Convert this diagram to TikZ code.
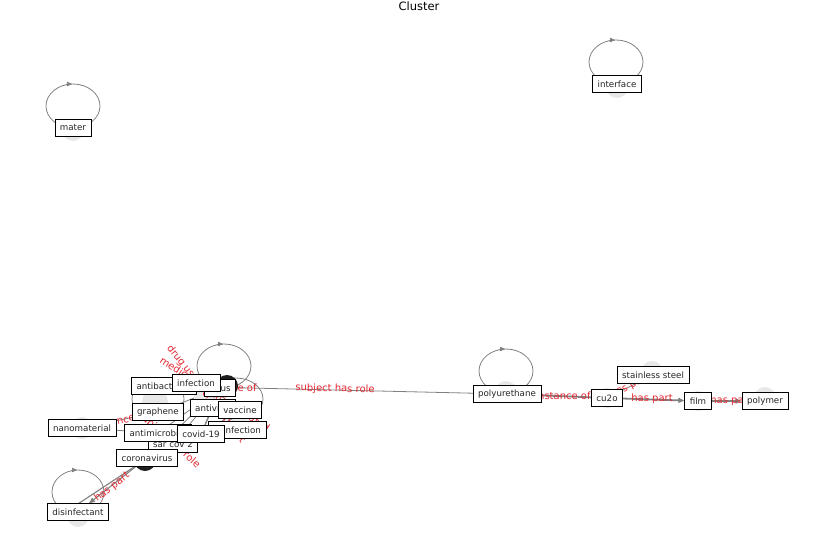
\documentclass[tikz,border=0pt]{standalone}
\usepackage{fontspec}
\setmainfont{DejaVu Sans}
\usetikzlibrary{arrows.meta}
\pgfdeclarelayer{edgelayer}
\pgfdeclarelayer{midlayer}
\pgfsetlayers{edgelayer,midlayer,main}
\definecolor{egray}{RGB}{128,128,128}
\definecolor{ered}{RGB}{226,40,50}
\definecolor{ngray}{RGB}{232,232,232}
\tikzset{
  nbox/.style={draw=black, fill=white, line width=0.8pt, inner xsep=5pt, inner ysep=0pt,
    minimum height=16.5pt, font=\fontsize{8.7}{10}\selectfont, text=black!85},
  elab/.style={text=ered, font=\fontsize{10}{12}\selectfont, inner sep=0pt},
  edg/.style={draw=egray, line width=0.8pt},
  tedg/.style={draw=egray, line width=1.8pt},
  loopc/.style={draw=egray, line width=0.8pt},
  ltip/.style={draw=egray, fill=egray, line width=0.6pt, -{Triangle[length=5pt,width=4.5pt]}},
  atip/.style={-{Triangle[length=6pt,width=5pt]}},
  ncirc/.style={fill=ngray},
  bcirc/.style={fill=black!88},
}
\begin{document}
\begin{tikzpicture}[x=1pt,y=-1pt]
\useasboundingbox (0,0) rectangle (837,559);
\node[font=\fontsize{11.5}{13}\selectfont] (title) at (419,6) {Cluster};

% ---------- node boxes (main layer, stacking order) ----------
\node[nbox] (mater) at (73,128) {mater};
\node[nbox] (interface) at (617,84) {interface};
\node[nbox] (antibacterial) at (164,386) {antibacterial};
\node[nbox] (virus) at (220,388) {virus};
\node[nbox] (infection) at (196,383) {infection};
\node[nbox] (graphene) at (158,412) {graphene};
\node[nbox] (antiviral) at (213,408) {antiviral};
\node[nbox] (vaccine) at (240,410) {vaccine};
\node[nbox] (nanomaterial) at (82,428) {nanomaterial};
\node[nbox] (coinfection) at (237,430) {coinfection};
\node[nbox] (sarcov) at (173,444) {sar cov 2};
\node[nbox] (antimicrobial) at (158,433) {antimicrobial};
\node[nbox] (covid) at (201,434) {covid-19};
\node[nbox] (coronavirus) at (147,458) {coronavirus};
\node[nbox] (disinfectant) at (78,512) {disinfectant};
\node[nbox] (polyurethane) at (507,394) {polyurethane};
\node[nbox] (cu2o) at (607,398) {cu2o};
\node[nbox] (stainless) at (653,375) {stainless steel};
\node[nbox] (film) at (698,401) {film};
\node[nbox] (polymer) at (765,401) {polymer};

% ---------- edges and loops ----------
\begin{pgfonlayer}{edgelayer}
  % self loops
  \draw[loopc] (73,106) ellipse [x radius=27, y radius=22];
  \draw[ltip] (66,84) -- (72,84);
  \draw[loopc] (616,62) ellipse [x radius=27, y radius=22];
  \draw[ltip] (609,40) -- (615,40);
  \draw[loopc] (506,371) ellipse [x radius=27, y radius=22];
  \draw[ltip] (499,349) -- (505,349);
  \draw[loopc] (224,366) ellipse [x radius=27, y radius=22];
  \draw[ltip] (217,344) -- (223,344);
  \draw[loopc] (78,492) ellipse [x radius=26, y radius=22];
  \draw[ltip] (71,470) -- (77,470);
  \draw[loopc] (236,399) ellipse [x radius=27, y radius=21];
  \draw[loopc] (158,399) ellipse [x radius=26, y radius=21];

  % long edge
  \draw[edg] (antibacterial.center) -- (polyurethane.center);
  % right chain
  \draw[tedg] (polyurethane.center) -- (cu2o.center);
  \draw[tedg, atip] (cu2o) -- (film);
  \draw[tedg, atip] (film) -- (polymer);
  \draw[edg] (cu2o.center) -- (stainless.center);
  % coronavirus to disinfectant (double edge)
  \draw[edg, line width=1.1pt, atip] ([xshift=1.2pt,yshift=1.2pt]coronavirus.center) -- (disinfectant);
  \draw[edg, line width=1.1pt] ([xshift=-1.2pt,yshift=-1.2pt]coronavirus.center) -- ([xshift=-1.5pt,yshift=-1.5pt]disinfectant.north);
  % cluster edges
  \draw[edg] (coronavirus.center) -- (virus.center);
  \draw[edg] (sarcov.center) -- (virus.center);
  \draw[edg] (covid.center) -- (virus.center);
  \draw[edg] (graphene.center) -- (virus.center);
  \draw[edg] (antimicrobial.center) -- (virus.center);
  \draw[edg] (antiviral.center) -- (covid.center);
  \draw[edg] (nanomaterial.center) -- (graphene.center);
  \draw[edg] (nanomaterial.center) -- (antimicrobial.center);
  \draw[edg] (coinfection.center) -- (virus.center);
  \draw[edg] (vaccine.center) -- (covid.center);
  \draw[edg] (antibacterial.center) -- (graphene.center);
  \draw[edg] (coronavirus.center) -- (covid.center);
\end{pgfonlayer}

% ---------- node markers and edge labels ----------
\begin{pgfonlayer}{midlayer}
  \fill[ncirc] (73,130) circle (11);
  \fill[ncirc] (617,87) circle (11);
  \fill[ncirc] (506,392) circle (11);
  \fill[ncirc] (652,372) circle (11);
  \fill[ncirc] (765,398) circle (11);
  \fill[ncirc] (698,401) circle (10);
  \fill[ncirc] (607,398) circle (10);
  \fill[ncirc] (78,516) circle (11);
  \fill[ncirc] (155,402) circle (13);
  \fill[ncirc] (82,428) circle (11);
  \fill[ncirc] (205,398) circle (11);
  \fill[ncirc] (240,412) circle (11);
  \fill[bcirc] (227,386) circle (11);
  \fill[bcirc] (145,460) circle (11);

  \node[elab, rotate=-1.3] (l1) at (335,389) {subject has role};
  \node[elab] (l2) at (229,388) {instance of};
  \node[elab, rotate=-52] (l3) at (206,394) {drug used for treatment};
  \node[elab, rotate=-33] (l4) at (215,394) {medical condition treated};
  \node[elab, rotate=-42] (l5) at (169,440) {subject has role};
  \node[elab, rotate=12] (l6) at (120,420) {instance of};
  \node[elab, rotate=38] (l7) at (112,487) {has part};
  \node[elab] (l8) at (563,396) {instance of};
  \node[elab, rotate=27] (l9) at (630,386) {has part};
  \node[elab] (l10) at (652,399) {has part};
  \node[elab] (l11) at (731,401) {has part};
\end{pgfonlayer}
\end{tikzpicture}
\end{document}
